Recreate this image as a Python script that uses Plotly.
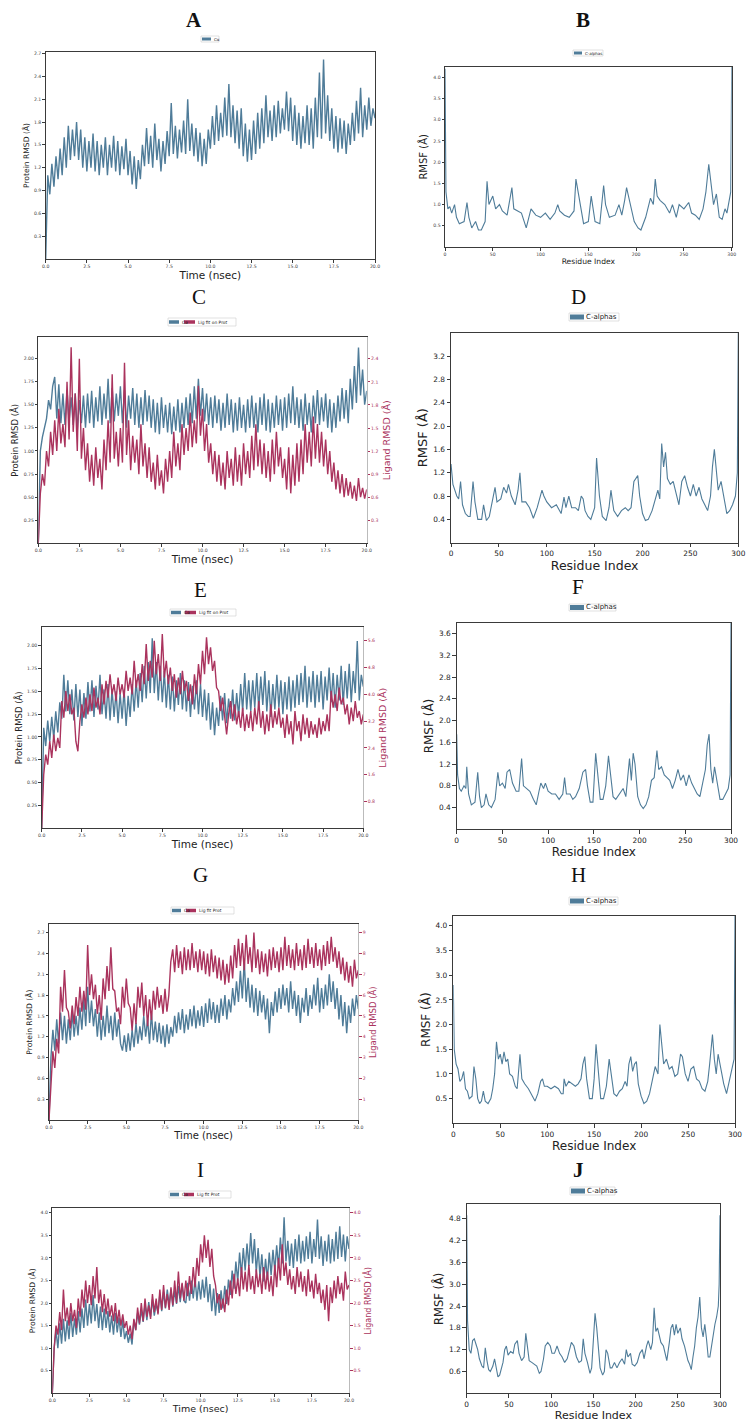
import plotly.graph_objects as go

# ====================== DATA ======================
FRAME_NS = 0.125  # sampling interval of RMSD traces (ns)

a_protein = [
    0.00, 1.10, 0.85, 1.25, 0.95, 1.35, 1.05, 1.45,
    1.10, 1.60, 1.20, 1.75, 1.30, 1.70, 1.35, 1.80,
    1.30, 1.70, 1.20, 1.60, 1.15, 1.55, 1.20, 1.65,
    1.15, 1.55, 1.10, 1.50, 1.20, 1.60, 1.10, 1.50,
    1.20, 1.62, 1.15, 1.55, 1.10, 1.48, 1.18, 1.58,
    1.10, 1.42, 0.98, 1.35, 0.92, 1.30, 1.05, 1.50,
    1.22, 1.72, 1.25, 1.62, 1.20, 1.78, 1.30, 1.58,
    1.15, 1.55, 1.25, 1.68, 1.35, 2.05, 1.38, 1.75,
    1.32, 1.70, 1.40, 1.82, 1.38, 2.10, 1.42, 1.78,
    1.35, 1.72, 1.28, 1.66, 1.22, 1.58, 1.25, 1.70,
    1.45, 1.88, 1.50, 2.02, 1.55, 1.92, 1.60, 2.12,
    1.62, 2.30, 1.60, 2.02, 1.52, 1.95, 1.45, 1.98,
    1.35, 1.78, 1.28, 1.70, 1.30, 1.82, 1.38, 1.92,
    1.45, 1.98, 1.52, 2.15, 1.60, 1.95, 1.55, 2.02,
    1.60, 2.08, 1.65, 1.98, 1.70, 2.20, 1.68, 2.12,
    1.55, 2.02, 1.50, 1.92, 1.45, 1.88, 1.52, 2.02,
    1.50, 1.98, 1.45, 2.12, 1.60, 2.45, 1.58, 2.62,
    1.65, 2.15, 1.55, 1.98, 1.45, 1.88, 1.40, 1.85,
    1.45, 1.82, 1.38, 1.78, 1.50, 1.92, 1.55, 2.08,
    1.65, 2.25, 1.60, 2.02, 1.70, 2.12, 1.75, 1.98,
    1.85,
]

c_protein = [
    0.00, 1.00, 1.15, 1.25, 1.35, 1.55, 1.45, 1.70,
    1.80, 1.35, 1.72, 1.30, 1.62, 1.28, 1.66, 1.32,
    1.58, 1.28, 1.62, 1.22, 1.55, 1.30, 1.60, 1.25,
    1.62, 1.30, 1.65, 1.25, 1.58, 1.32, 1.70, 1.28,
    1.62, 1.35, 1.78, 1.30, 1.68, 1.32, 1.62, 1.38,
    1.70, 1.30, 1.66, 1.25, 1.60, 1.35, 1.68, 1.28,
    1.62, 1.25, 1.58, 1.28, 1.66, 1.32, 1.60, 1.25,
    1.56, 1.20, 1.52, 1.18, 1.58, 1.25, 1.50, 1.20,
    1.52, 1.18, 1.48, 1.22, 1.56, 1.20, 1.52, 1.25,
    1.58, 1.28, 1.62, 1.30, 1.70, 1.35, 1.78, 1.38,
    1.68, 1.32, 1.62, 1.28, 1.58, 1.25, 1.60, 1.30,
    1.56, 1.22, 1.52, 1.25, 1.62, 1.28, 1.56, 1.20,
    1.52, 1.22, 1.58, 1.25, 1.50, 1.20, 1.56, 1.25,
    1.60, 1.25, 1.52, 1.20, 1.58, 1.28, 1.62, 1.22,
    1.56, 1.20, 1.52, 1.25, 1.60, 1.28, 1.56, 1.22,
    1.58, 1.25, 1.62, 1.30, 1.70, 1.28, 1.58, 1.25,
    1.56, 1.22, 1.62, 1.28, 1.52, 1.20, 1.60, 1.30,
    1.66, 1.28, 1.58, 1.32, 1.62, 1.25, 1.56, 1.20,
    1.52, 1.25, 1.60, 1.32, 1.68, 1.35, 1.66, 1.30,
    1.78, 1.45, 1.92, 1.52, 2.12, 1.60, 1.88, 1.50,
    1.65,
]

c_ligand = [
    0.00, 0.65, 0.90, 0.75, 1.20, 1.00, 1.45, 1.15,
    1.60, 1.20, 1.75, 1.30, 1.55, 1.25, 2.10, 1.35,
    2.55, 1.45, 1.95, 1.20, 2.40, 1.10, 1.50, 0.95,
    1.30, 0.80, 1.15, 0.75, 1.25, 0.85, 1.10, 0.70,
    1.35, 0.95, 1.60, 1.05, 2.20, 1.10, 1.45, 1.00,
    1.50, 1.05, 2.35, 1.15, 1.60, 0.95, 1.40, 1.05,
    1.35, 0.90, 1.55, 1.00, 1.30, 0.85, 1.25, 0.80,
    1.05, 0.70, 1.15, 0.75, 0.95, 0.65, 1.10, 0.80,
    1.20, 0.85, 1.45, 1.00, 1.30, 0.95, 1.55, 1.15,
    1.50, 1.20, 1.70, 1.25, 1.60, 1.30, 2.05, 1.40,
    1.75, 1.20, 1.55, 1.05, 1.30, 0.90, 1.20, 0.80,
    1.15, 0.75, 1.05, 0.70, 1.20, 0.85, 1.10, 0.75,
    1.25, 0.80, 1.15, 0.75, 1.30, 0.90, 1.20, 0.85,
    1.40, 0.95, 1.55, 1.00, 1.35, 0.90, 1.30, 0.85,
    1.20, 0.80, 1.35, 0.90, 1.45, 1.00, 1.25, 0.85,
    1.10, 0.70, 1.25, 0.65, 1.15, 0.75, 1.30, 0.80,
    1.35, 0.90, 1.55, 1.05, 1.45, 1.00, 1.65, 1.10,
    1.55, 1.05, 1.45, 1.00, 1.35, 0.90, 1.20, 0.80,
    1.05, 0.70, 0.95, 0.65, 0.90, 0.60, 0.85, 0.62,
    0.80, 0.58, 0.75, 0.55, 0.85, 0.60, 0.72, 0.58,
    0.70,
]

e_protein = [
    0.00, 1.10, 0.90, 1.18, 0.95, 1.22, 0.98, 1.28,
    1.05, 1.38, 1.20, 1.68, 1.28, 1.62, 1.25, 1.52,
    1.18, 1.58, 1.22, 1.52, 1.12, 1.48, 1.20, 1.60,
    1.28, 1.62, 1.22, 1.56, 1.30, 1.68, 1.25, 1.52,
    1.20, 1.58, 1.18, 1.52, 1.22, 1.50, 1.15, 1.48,
    1.20, 1.52, 1.12, 1.45, 1.22, 1.58, 1.28, 1.62,
    1.32, 1.70, 1.38, 1.78, 1.42, 1.82, 1.48, 2.08,
    1.48, 1.82, 1.40, 1.78, 1.38, 1.72, 1.32, 1.68,
    1.30, 1.66, 1.28, 1.62, 1.35, 1.70, 1.30, 1.62,
    1.28, 1.60, 1.22, 1.56, 1.30, 1.62, 1.25, 1.58,
    1.22, 1.52, 1.18, 1.48, 1.08, 1.38, 1.02, 1.32,
    1.12, 1.45, 1.18, 1.48, 1.15, 1.42, 1.20, 1.52,
    1.18, 1.48, 1.22, 1.58, 1.28, 1.70, 1.30, 1.62,
    1.28, 1.62, 1.32, 1.70, 1.30, 1.66, 1.35, 1.72,
    1.28, 1.62, 1.22, 1.58, 1.30, 1.68, 1.32, 1.62,
    1.25, 1.60, 1.30, 1.66, 1.28, 1.62, 1.32, 1.68,
    1.35, 1.70, 1.38, 1.78, 1.32, 1.66, 1.38, 1.72,
    1.32, 1.68, 1.38, 1.72, 1.30, 1.66, 1.40, 1.76,
    1.38, 1.70, 1.32, 1.68, 1.40, 1.78, 1.35, 1.72,
    1.42, 1.80, 1.38, 1.72, 1.48, 2.05, 1.40, 1.68,
    1.55,
]

e_ligand = [
    0.00, 1.60, 2.20, 1.90, 2.60, 2.10, 2.80, 2.30,
    2.70, 2.40, 3.80, 3.30, 4.10, 3.50, 4.00, 3.40,
    3.60, 2.60, 2.30, 3.20, 3.70, 3.30, 3.90, 3.40,
    4.00, 3.50, 4.20, 3.60, 3.90, 3.40, 4.30, 3.70,
    4.40, 3.90, 4.60, 4.00, 4.30, 3.80, 4.50, 4.00,
    4.30, 3.90, 4.70, 4.10, 4.50, 4.00, 5.00, 4.20,
    4.60, 4.10, 4.90, 4.30, 5.50, 4.40, 5.00, 4.50,
    5.60, 4.60, 5.20, 4.40, 5.80, 4.50, 5.00, 4.30,
    4.80, 4.10, 4.60, 3.90, 4.50, 4.00, 4.70, 4.10,
    4.40, 3.80, 4.30, 3.70, 4.60, 4.00, 4.90, 4.30,
    5.30, 4.60, 5.70, 4.90, 5.40, 4.70, 5.00, 4.20,
    4.10, 3.50, 3.90, 3.30, 2.80, 3.40, 3.80, 3.20,
    3.70, 3.10, 3.50, 3.00, 3.60, 2.90, 3.40, 3.00,
    3.50, 2.90, 3.60, 3.10, 3.80, 3.00, 3.50, 2.80,
    3.40, 2.90, 3.70, 3.00, 3.50, 3.10, 3.60, 3.00,
    3.30, 2.70, 3.40, 2.80, 3.20, 2.50, 3.50, 2.90,
    3.20, 2.60, 3.40, 2.80, 3.30, 2.70, 3.20, 2.80,
    3.10, 2.70, 3.30, 2.80, 3.20, 2.90, 3.40, 2.90,
    4.10, 3.60, 4.00, 3.50, 4.20, 3.70, 3.90, 3.40,
    3.70, 3.10, 3.60, 3.20, 3.80, 3.30, 3.50, 3.10,
    3.40,
]

g_protein = [
    0.00, 0.90, 1.30, 1.00, 1.45, 1.10, 1.55, 1.15,
    1.50, 1.10, 1.45, 1.15, 1.55, 1.20, 1.50, 1.22,
    1.62, 1.30, 1.75, 1.35, 1.92, 1.40, 1.72, 1.35,
    1.60, 1.20, 1.55, 1.15, 1.50, 1.20, 1.65, 1.25,
    1.50, 1.15, 1.55, 1.20, 1.45, 1.10, 1.00, 1.22,
    0.98, 1.25, 1.00, 1.30, 1.05, 1.40, 1.10, 1.35,
    1.15, 1.50, 1.20, 1.45, 1.10, 1.55, 1.15, 1.42,
    1.12, 1.40, 1.10, 1.36, 1.05, 1.38, 1.10, 1.34,
    1.20, 1.50, 1.25, 1.55, 1.30, 1.60, 1.25, 1.52,
    1.30, 1.60, 1.35, 1.65, 1.32, 1.58, 1.36, 1.64,
    1.34, 1.68, 1.40, 1.75, 1.45, 1.70, 1.40, 1.66,
    1.40, 1.75, 1.50, 1.80, 1.45, 1.74, 1.55, 1.90,
    1.65, 2.00, 1.70, 2.15, 1.75, 2.30, 1.70, 2.05,
    1.62, 1.95, 1.55, 1.90, 1.50, 1.86, 1.55, 1.80,
    1.45, 1.75, 1.25, 1.70, 1.50, 1.85, 1.55, 1.90,
    1.60, 1.95, 1.65, 1.90, 1.55, 2.00, 1.60, 1.86,
    1.50, 1.80, 1.40, 1.76, 1.55, 1.90, 1.50, 1.80,
    1.60, 1.95, 1.65, 2.05, 1.55, 1.90, 1.60, 1.95,
    1.65, 2.10, 1.70, 2.00, 1.60, 1.90, 1.45, 1.80,
    1.35, 1.70, 1.25, 1.65, 1.40, 1.75, 1.50, 1.80,
    1.60,
]

g_ligand = [
    0.00, 2.00, 3.30, 2.50, 3.90, 3.20, 6.40, 5.20,
    7.20, 5.40, 5.20, 4.40, 5.50, 4.60, 5.90, 5.00,
    6.40, 5.20, 6.20, 5.30, 8.40, 6.00, 7.00, 5.80,
    6.50, 5.10, 6.00, 4.80, 6.80, 5.80, 7.40, 6.20,
    8.30, 6.30, 6.20, 5.20, 5.40, 4.60, 6.40, 5.40,
    6.80, 5.60, 5.40, 4.30, 5.60, 4.60, 6.40, 5.40,
    6.60, 5.00, 6.00, 4.50, 5.80, 4.80, 6.20, 5.30,
    6.40, 5.40, 6.00, 5.10, 6.30, 5.20, 6.00, 7.60,
    8.20, 7.10, 8.40, 7.30, 8.10, 7.00, 8.30, 7.20,
    8.20, 7.20, 8.50, 7.30, 8.10, 7.10, 8.20, 7.20,
    8.10, 7.00, 8.00, 6.90, 8.20, 7.10, 7.90, 6.80,
    7.80, 6.70, 7.70, 6.50, 7.50, 6.60, 7.90, 6.80,
    8.40, 7.30, 8.70, 7.40, 8.50, 7.20, 8.90, 7.50,
    8.30, 7.10, 9.00, 7.30, 8.20, 7.00, 8.10, 7.10,
    8.00, 6.90, 8.20, 7.20, 8.30, 7.30, 8.10, 7.10,
    8.30, 7.20, 8.80, 7.40, 8.40, 7.30, 8.20, 7.20,
    8.50, 7.40, 8.20, 7.20, 8.40, 7.30, 8.70, 7.50,
    8.30, 7.30, 8.50, 7.40, 8.20, 7.20, 8.40, 7.40,
    8.60, 7.50, 8.80, 7.60, 8.30, 7.30, 8.10, 7.00,
    7.80, 6.70, 7.60, 6.60, 7.40, 6.40, 7.70, 6.80,
    7.20,
]

i_protein = [
    0.00, 1.00, 1.40, 1.00, 1.55, 1.10, 1.65, 1.15,
    1.62, 1.20, 1.78, 1.25, 1.66, 1.30, 1.82, 1.35,
    1.88, 1.45, 2.08, 1.50, 1.98, 1.55, 2.18, 1.60,
    1.98, 1.45, 1.92, 1.40, 1.88, 1.45, 1.82, 1.35,
    1.72, 1.30, 1.78, 1.35, 1.68, 1.25, 1.62, 1.20,
    1.38, 1.12, 1.32, 1.08, 1.62, 1.40, 1.78, 1.52,
    1.85, 1.58, 1.98, 1.62, 2.02, 1.70, 2.08, 1.72,
    1.98, 1.78, 2.20, 1.82, 2.25, 1.88, 2.30, 1.95,
    2.30, 1.92, 2.28, 1.98, 2.38, 2.02, 2.42, 2.05,
    2.00, 2.45, 2.05, 2.50, 2.10, 2.55, 2.05, 2.48,
    2.08, 2.52, 2.12, 2.58, 2.02, 2.42, 1.82, 2.32,
    1.72, 2.22, 1.78, 2.28, 1.88, 2.38, 1.98, 2.52,
    2.18, 2.72, 2.32, 2.92, 2.48, 3.12, 2.62, 3.22,
    2.72, 3.32, 2.82, 3.55, 2.88, 3.42, 2.68, 3.22,
    2.58, 3.08, 2.48, 2.98, 2.52, 3.12, 2.62, 3.18,
    2.72, 3.28, 2.78, 3.45, 2.88, 3.90, 2.92, 3.38,
    2.82, 3.32, 2.78, 3.42, 2.92, 3.52, 2.88, 3.38,
    2.92, 3.48, 2.98, 3.58, 2.88, 3.42, 3.02, 3.85,
    2.98, 3.48, 2.82, 3.38, 2.92, 3.52, 2.88, 3.42,
    2.92, 3.58, 2.98, 3.70, 3.02, 3.52, 2.92, 3.48,
    3.20,
]

i_ligand = [
    0.00, 1.00, 1.50, 1.30, 1.80, 1.40, 2.30, 1.60,
    1.90, 1.50, 2.00, 1.60, 1.85, 1.45, 2.10, 1.70,
    2.30, 1.90, 2.50, 2.00, 2.40, 1.95, 2.60, 2.10,
    2.80, 2.00, 2.30, 1.80, 2.20, 1.75, 2.10, 1.70,
    1.95, 1.60, 2.00, 1.55, 1.85, 1.50, 1.75, 1.45,
    1.60, 1.30, 1.50, 1.20, 1.65, 1.40, 1.90, 1.55,
    2.00, 1.60, 2.10, 1.70, 1.95, 1.65, 2.20, 1.80,
    2.10, 1.75, 2.30, 1.85, 2.40, 1.90, 2.20, 1.85,
    2.35, 1.95, 2.50, 2.00, 2.70, 2.10, 2.45, 2.05,
    2.50, 2.15, 2.60, 2.20, 2.80, 2.35, 3.00, 2.60,
    3.30, 2.90, 3.50, 3.00, 3.40, 2.80, 3.20, 2.60,
    2.40, 2.00, 2.20, 1.85, 2.10, 1.80, 2.30, 1.95,
    2.50, 2.10, 2.65, 2.20, 2.55, 2.15, 2.80, 2.30,
    2.70, 2.25, 2.85, 2.30, 2.60, 2.20, 2.75, 2.35,
    2.65, 2.20, 2.80, 2.30, 2.70, 2.25, 2.60, 2.15,
    2.85, 2.35, 3.00, 2.50, 3.30, 2.60, 2.90, 2.40,
    2.75, 2.30, 2.60, 2.20, 2.80, 2.35, 2.70, 2.25,
    2.60, 2.15, 2.75, 2.25, 2.50, 2.10, 2.65, 2.20,
    2.45, 2.00, 2.30, 1.85, 2.40, 1.60, 2.35, 2.00,
    2.50, 2.10, 2.60, 2.20, 2.45, 2.05, 2.70, 2.30,
    2.40,
]

# RMSF: (residue index, RMSF in Angstrom)
b_rmsf = [
    (0, 4.2), (1, 1.3), (3, 0.9), (5, 0.95), (7, 0.8), (10, 1.0), (12, 0.7), (15, 0.55),
    (20, 0.6), (23, 1.05), (25, 0.7), (28, 0.45), (32, 0.6), (35, 0.4), (38, 0.4), (42, 0.6),
    (44, 1.55), (46, 1.0), (50, 1.2), (53, 0.9), (57, 1.0), (60, 0.85), (65, 0.75), (70, 1.4),
    (72, 0.9), (76, 0.85), (80, 0.8), (85, 0.45), (90, 0.9), (95, 0.75), (100, 0.7), (105, 0.8),
    (110, 0.65), (115, 0.8), (118, 1.0), (120, 0.85), (125, 0.75), (130, 0.7), (135, 0.85),
    (137, 1.6), (140, 1.2), (145, 0.55), (150, 0.6), (153, 1.2), (157, 0.6), (162, 0.55),
    (166, 1.45), (168, 1.0), (172, 0.7), (178, 0.75), (182, 1.0), (185, 0.75), (188, 1.1),
    (190, 1.4), (193, 1.1), (198, 0.6), (202, 0.45), (205, 0.4), (210, 0.7), (215, 1.15),
    (218, 1.0), (220, 1.6), (222, 1.2), (225, 1.1), (230, 1.0), (235, 0.8), (238, 1.0),
    (242, 0.7), (245, 1.0), (250, 0.9), (255, 1.05), (258, 0.8), (262, 0.75), (266, 0.65),
    (270, 0.9), (273, 1.3), (276, 1.95), (279, 1.3), (281, 1.0), (284, 1.25), (287, 0.7),
    (290, 0.65), (293, 0.9), (295, 0.8), (298, 1.2), (299, 1.3), (300, 4.25),
]

d_rmsf = [
    (0, 1.35), (2, 1.0), (4, 0.9), (6, 0.8), (8, 0.75), (10, 1.05), (12, 0.65), (15, 0.5),
    (18, 0.45), (20, 0.45), (23, 1.05), (25, 0.7), (28, 0.4), (32, 0.4), (34, 0.65), (37, 0.38),
    (40, 0.45), (43, 0.7), (46, 0.95), (48, 0.7), (52, 0.75), (55, 0.95), (58, 0.85), (60, 1.0),
    (63, 0.8), (67, 0.65), (70, 0.9), (72, 1.2), (74, 0.7), (78, 0.7), (82, 0.6), (86, 0.42),
    (90, 0.6), (95, 0.9), (97, 0.8), (100, 0.7), (105, 0.6), (110, 0.65), (115, 0.5), (118, 0.78),
    (120, 0.6), (123, 0.8), (126, 0.6), (130, 0.6), (133, 0.55), (136, 0.8), (138, 0.75),
    (140, 0.55), (143, 0.45), (146, 0.4), (150, 0.6), (152, 1.45), (155, 0.8), (158, 0.45),
    (162, 0.38), (165, 0.6), (167, 0.9), (170, 0.55), (174, 0.45), (178, 0.55), (182, 0.6),
    (185, 0.55), (188, 0.6), (191, 1.05), (193, 1.1), (195, 1.15), (197, 0.8), (200, 0.5),
    (203, 0.38), (206, 0.4), (210, 0.55), (213, 0.75), (216, 0.9), (218, 0.75), (220, 1.7),
    (222, 1.3), (224, 1.55), (226, 1.1), (229, 1.0), (232, 1.05), (235, 0.85), (238, 0.65),
    (241, 1.05), (244, 1.15), (247, 0.95), (250, 0.8), (253, 1.0), (256, 0.8), (259, 0.95),
    (262, 0.75), (265, 0.65), (268, 0.55), (271, 0.8), (273, 1.3), (275, 1.6), (277, 1.3),
    (279, 0.9), (282, 1.05), (285, 0.8), (288, 0.5), (291, 0.55), (294, 0.65), (297, 0.8),
    (299, 1.2), (300, 3.6),
]

f_rmsf = [
    (0, 1.75), (1, 1.0), (3, 0.75), (5, 0.7), (8, 0.8), (10, 0.75), (11, 1.15), (13, 0.65),
    (16, 0.45), (20, 0.5), (23, 1.05), (25, 0.6), (27, 0.4), (30, 0.45), (32, 0.65), (35, 0.45),
    (38, 0.4), (42, 0.55), (45, 1.05), (47, 0.8), (50, 0.85), (53, 0.75), (55, 1.05), (58, 1.1),
    (61, 0.85), (65, 0.7), (68, 0.7), (71, 1.3), (73, 0.8), (77, 0.75), (80, 0.7), (84, 0.55),
    (87, 0.45), (90, 0.7), (92, 0.85), (95, 0.75), (97, 0.85), (100, 0.7), (104, 0.65),
    (108, 0.65), (112, 0.55), (116, 0.65), (118, 0.95), (120, 0.65), (124, 0.65), (127, 0.55),
    (130, 0.6), (134, 0.75), (138, 1.05), (141, 1.1), (143, 0.8), (146, 0.5), (149, 0.5),
    (152, 1.4), (154, 1.1), (157, 0.55), (160, 0.55), (163, 0.8), (166, 1.35), (168, 1.0),
    (171, 0.6), (174, 0.55), (178, 0.65), (182, 0.75), (185, 0.6), (187, 1.0), (189, 1.3),
    (191, 0.9), (193, 1.4), (195, 1.2), (198, 0.6), (201, 0.45), (204, 0.38), (207, 0.45),
    (210, 0.6), (213, 0.9), (216, 0.95), (219, 1.45), (221, 1.1), (224, 1.15), (227, 1.0),
    (230, 0.95), (233, 0.9), (236, 0.75), (239, 0.9), (242, 1.1), (245, 0.9), (248, 1.0),
    (251, 0.8), (254, 1.0), (257, 0.85), (260, 0.75), (263, 0.65), (266, 0.6), (269, 0.85),
    (272, 1.1), (274, 1.55), (276, 1.75), (278, 1.1), (280, 0.85), (282, 1.15), (285, 0.85),
    (288, 0.55), (291, 0.55), (294, 0.65), (297, 0.75), (299, 1.0), (300, 3.8),
]

h_rmsf = [
    (0, 2.8), (1, 1.5), (3, 1.2), (5, 1.1), (7, 0.85), (9, 0.9), (11, 1.05), (13, 0.7),
    (15, 0.65), (17, 0.5), (20, 0.55), (22, 1.15), (24, 0.9), (26, 0.5), (28, 0.4), (30, 0.45),
    (32, 0.65), (34, 0.45), (37, 0.4), (40, 0.5), (42, 0.7), (44, 1.0), (46, 1.65), (48, 1.3),
    (50, 1.4), (52, 1.2), (54, 1.45), (56, 1.25), (58, 1.3), (60, 1.0), (63, 0.95), (66, 0.75),
    (68, 0.7), (71, 1.4), (73, 0.9), (76, 0.8), (80, 0.7), (84, 0.55), (87, 0.45), (90, 0.6),
    (93, 0.85), (95, 0.9), (97, 0.75), (100, 0.75), (104, 0.7), (108, 0.75), (112, 0.7),
    (115, 0.6), (117, 0.6), (118, 0.9), (120, 0.75), (123, 0.85), (126, 0.8), (130, 0.75),
    (133, 0.8), (136, 0.9), (138, 1.2), (140, 1.35), (142, 0.9), (145, 0.5), (148, 0.5),
    (150, 0.9), (152, 1.6), (154, 1.1), (157, 0.5), (160, 0.5), (163, 0.75), (166, 1.3),
    (168, 1.05), (171, 0.6), (174, 0.55), (177, 0.65), (180, 0.7), (183, 0.85), (185, 0.75),
    (187, 1.2), (189, 1.35), (191, 1.05), (193, 1.2), (195, 1.25), (197, 0.8), (200, 0.55),
    (203, 0.4), (206, 0.45), (209, 0.6), (212, 0.85), (215, 1.15), (218, 1.0), (220, 2.0),
    (222, 1.6), (224, 1.2), (227, 1.3), (230, 1.1), (233, 1.15), (236, 0.95), (239, 1.0),
    (242, 1.4), (244, 1.35), (247, 1.0), (250, 0.85), (253, 1.1), (256, 1.15), (259, 0.9),
    (262, 0.85), (265, 0.7), (268, 0.65), (271, 0.85), (273, 1.2), (275, 1.55), (276, 1.8),
    (278, 1.3), (280, 1.0), (282, 1.4), (285, 1.1), (288, 0.8), (291, 0.6), (294, 0.85),
    (297, 1.15), (299, 1.3), (300, 4.2),
]

j_rmsf = [
    (0, 4.9), (1, 2.0), (3, 1.2), (5, 1.1), (7, 1.45), (9, 1.5), (11, 1.35), (13, 1.2),
    (15, 0.95), (18, 0.75), (20, 0.7), (22, 1.25), (24, 0.9), (26, 0.65), (28, 0.6), (31, 0.75),
    (33, 0.95), (35, 0.7), (37, 0.45), (39, 0.5), (41, 0.7), (43, 0.85), (45, 1.2), (47, 1.3),
    (49, 1.05), (52, 1.15), (55, 1.1), (57, 1.35), (60, 1.45), (62, 1.1), (65, 0.9), (68, 1.0),
    (70, 1.65), (72, 1.3), (74, 0.9), (77, 0.85), (80, 0.8), (83, 0.75), (86, 0.55), (88, 0.6),
    (91, 0.95), (93, 1.3), (96, 1.4), (99, 1.3), (101, 1.1), (104, 1.1), (107, 1.3), (110, 1.1),
    (113, 1.0), (116, 0.85), (119, 0.95), (122, 1.25), (124, 1.4), (127, 1.3), (130, 1.0),
    (133, 0.85), (136, 0.9), (138, 1.5), (140, 1.1), (143, 0.85), (146, 0.55), (148, 0.7),
    (150, 1.4), (152, 2.2), (154, 1.8), (156, 1.1), (158, 0.7), (161, 0.5), (163, 0.6),
    (165, 1.2), (167, 1.1), (170, 0.7), (172, 0.7), (175, 0.85), (178, 0.7), (181, 0.85),
    (184, 0.95), (187, 0.8), (189, 1.2), (191, 1.0), (194, 1.1), (196, 0.8), (199, 0.75),
    (202, 0.85), (205, 1.1), (208, 1.2), (210, 0.95), (213, 1.3), (215, 1.45), (218, 1.2),
    (220, 1.4), (222, 2.35), (224, 1.7), (226, 1.8), (228, 1.6), (230, 1.4), (233, 1.3),
    (235, 1.05), (237, 0.9), (240, 1.4), (242, 1.8), (244, 1.9), (246, 1.6), (248, 1.9),
    (250, 1.65), (253, 1.8), (255, 1.5), (258, 1.3), (260, 1.1), (262, 0.9), (264, 0.8),
    (266, 0.65), (268, 1.0), (270, 1.3), (272, 1.8), (274, 2.1), (276, 2.65), (278, 1.8),
    (280, 1.55), (282, 1.9), (284, 1.5), (286, 1.0), (288, 1.0), (290, 1.3), (292, 1.7),
    (294, 1.9), (296, 2.1), (298, 2.4), (299, 3.0), (300, 4.9),
]

# Tick labels
time_ticks = [0, 2.5, 5, 7.5, 10, 12.5, 15, 17.5, 20]
residue_ticks = [0, 50, 100, 150, 200, 250, 300]
a_yticks = [0.3, 0.6, 0.9, 1.2, 1.5, 1.8, 2.1, 2.4, 2.7]
b_yticks = [0.5, 1.0, 1.5, 2.0, 2.5, 3.0, 3.5, 4.0]
c_yticks = [0.25, 0.5, 0.75, 1.0, 1.25, 1.5, 1.75, 2.0]
c_y2ticks = [0.3, 0.6, 0.9, 1.2, 1.5, 1.8, 2.1, 2.4]
d_yticks = [0.4, 0.8, 1.2, 1.6, 2.0, 2.4, 2.8, 3.2]
e_yticks = [0.25, 0.5, 0.75, 1.0, 1.25, 1.5, 1.75, 2.0]
e_y2ticks = [0.8, 1.6, 2.4, 3.2, 4.0, 4.8, 5.6]
f_yticks = [0.4, 0.8, 1.2, 1.6, 2.0, 2.4, 2.8, 3.2, 3.6]
g_yticks = [0.3, 0.6, 0.9, 1.2, 1.5, 1.8, 2.1, 2.4, 2.7]
g_y2ticks = [1, 2, 3, 4, 5, 6, 7, 8, 9]
h_yticks = [0.5, 1.0, 1.5, 2.0, 2.5, 3.0, 3.5, 4.0]
i_yticks = [0.5, 1.0, 1.5, 2.0, 2.5, 3.0, 3.5, 4.0]
i_y2ticks = [0.5, 1.0, 1.5, 2.0, 2.5, 3.0, 3.5, 4.0]
j_yticks = [0.6, 1.2, 1.8, 2.4, 3.0, 3.6, 4.2, 4.8]

# ====================== STYLE / LAYOUT ======================
W, H = 754, 1427
BLUE = "#4f7c99"
RED = "#aa335d"
FRAME = "#3a3a3a"
SANS = "DejaVu Sans"
SERIF = "Liberation Serif"
RMSD_WIDTH = 1.4
RMSF_WIDTH = 1.1


def times(vals):
    return [round(k * FRAME_NS, 4) for k in range(len(vals))]


def unzip(pairs):
    return [p[0] for p in pairs], [p[1] for p in pairs]


def px(x):
    return x / W


def py(y):
    return 1 - y / H


def nm(prefix, i):
    return prefix if i == 1 else f"{prefix}{i}"


fig = go.Figure()
layout = dict(width=W, height=H, margin=dict(l=0, r=0, t=0, b=0),
              paper_bgcolor="white", plot_bgcolor="white", showlegend=False,
              annotations=[], shapes=[])

SMALL = dict(tick=4.6, ticklen=2.5, tcolor="#444")
BIG = dict(tick=7.4, ticklen=3.5, tcolor="#222")


def make_axis(domain, rng, tickvals, fmt, title, tsize, st, standoff, anchor, color=None, **kw):
    d = dict(domain=domain, range=rng, tickvals=tickvals, tickformat=fmt,
             title=dict(text=title, standoff=standoff,
                        font=dict(size=tsize, family=SANS, color=color or "#222")),
             showline=True, linecolor=FRAME, linewidth=1, mirror=True,
             ticks="outside", ticklen=st["ticklen"], tickwidth=0.8, tickcolor=color or FRAME,
             tickfont=dict(size=st["tick"], family=SANS, color=color or st["tcolor"]),
             showgrid=False, zeroline=False, anchor=anchor, automargin=False, fixedrange=True)
    d.update(kw)
    return d


def add_legend(box, entries, fsize, swh):
    x0, y0, x1, y1 = box
    layout["shapes"].append(dict(type="rect", xref="paper", yref="paper",
                                 x0=px(x0), x1=px(x1), y0=py(y1), y1=py(y0),
                                 fillcolor="white", line=dict(color="#cfcfcf", width=0.6),
                                 layer="above"))
    yc = (y0 + y1) / 2
    for (sx0, sx1, tx, text, color) in entries:
        layout["shapes"].append(dict(type="rect", xref="paper", yref="paper",
                                     x0=px(sx0), x1=px(sx1), y0=py(yc + swh / 2),
                                     y1=py(yc - swh / 2), fillcolor=color,
                                     line=dict(width=0), layer="above"))
        layout["annotations"].append(dict(text=text, x=px(tx), y=py(yc), xref="paper",
                                          yref="paper", xanchor="left", yanchor="middle",
                                          showarrow=False,
                                          font=dict(size=fsize, family=SANS, color="#222")))


right_counter = [10]


def add_panel(i, label, bold, box, title_xy, kind, st, series, yrange, yticks, yfmt,
              xt, yt, y2=None):
    l, t, r, b = box
    xa, ya = nm("x", i), nm("y", i)
    xkey, ykey = nm("xaxis", i), nm("yaxis", i)
    big = st is BIG
    if kind == "rmsd":
        layout[xkey] = make_axis([px(l), px(r)], [0, 20], time_ticks, ".1f", "Time (nsec)",
                                 xt, st, 1, ya)
        ytitle = "Protein RMSD (Å)"
        width = RMSD_WIDTH
    else:
        layout[xkey] = make_axis([px(l), px(r)], [0, 300], residue_ticks, "d", "Residue Index",
                                 xt, st, 1 if not big else 3, ya)
        ytitle = "RMSF (Å)"
        width = RMSF_WIDTH
    layout[ykey] = make_axis([py(b), py(t)], yrange, yticks, yfmt, ytitle, yt, st,
                             3 if not big else 2, xa)
    y2name = None
    if y2 is not None:
        right_counter[0] += 1
        k = right_counter[0]
        y2name = f"y{k}"
        layout[f"yaxis{k}"] = make_axis([py(b), py(t)], y2["range"], y2["ticks"], y2["fmt"],
                                        "Ligand RMSD (Å)", y2["tsize"], st, 5, xa, color=RED,
                                        overlaying=ya, side="right", mirror=False,
                                        linecolor="#bbbbbb")
    for (xs, ys, color, on_right) in series:
        fig.add_trace(go.Scatter(x=xs, y=ys, mode="lines",
                                 line=dict(color=color, width=width),
                                 xaxis=xa, yaxis=(y2name if on_right else ya),
                                 showlegend=False, hoverinfo="skip"))
    txt = f"<b>{label}</b>" if bold else label
    layout["annotations"].append(dict(
        text=txt, x=px(title_xy[0]), y=py(title_xy[1]), xref="paper", yref="paper",
        xanchor="center", yanchor="middle", showarrow=False,
        font=dict(family=SERIF, size=21, color="#111")))


# ---- Panels ----
add_panel(1, "A", True, (45.7, 52, 375, 259), (194, 20), "rmsd", SMALL,
          [(times(a_protein), a_protein, BLUE, False)],
          [0, 2.72], a_yticks, ".1f", 10.5, 7.6)
add_legend((201, 36, 219, 42), [(202, 211, 212, "Cα", BLUE)], 4, 3)

bx, by = unzip(b_rmsf)
add_panel(2, "B", True, (445, 66.7, 731.7, 247), (583, 20), "rmsf", SMALL,
          [(bx, by, BLUE, False)],
          [0, 4.25], b_yticks, ".1f", 7.6, 10)
add_legend((573, 50, 603, 56), [(574, 582, 583, "C-alphas", BLUE)], 4, 3)

add_panel(3, "C", False, (38.3, 337.3, 366.7, 543.3), (199, 297), "rmsd", SMALL,
          [(times(c_protein), c_protein, BLUE, False), (times(c_ligand), c_ligand, RED, True)],
          [0, 2.23], c_yticks, ".2f", 10.5, 8.5,
          y2=dict(range=[0, 2.68], ticks=c_y2ticks, fmt=".1f", tsize=9.5))
add_legend((168, 318, 236, 326), [(169, 179, 180, "Cα", BLUE),
                                  (184, 195, 196, "Lig fit on Prot", RED)], 4.4, 3.5)

dx, dy = unzip(d_rmsf)
add_panel(4, "D", False, (451, 332.7, 738.3, 542.7), (578, 297), "rmsf", BIG,
          [(dx, dy, BLUE, False)],
          [0, 3.6], d_yticks, ".1f", 12.5, 13)
add_legend((569, 313, 619, 321), [(570, 584, 584, "C-alphas", BLUE)], 7, 5)

add_panel(5, "E", False, (41.7, 627.3, 363.3, 828.3), (200, 590), "rmsd", SMALL,
          [(times(e_protein), e_protein, BLUE, False), (times(e_ligand), e_ligand, RED, True)],
          [0, 2.2], e_yticks, ".2f", 10.5, 8.5,
          y2=dict(range=[0, 6.0], ticks=e_y2ticks, fmt=".1f", tsize=9.5))
add_legend((170, 609, 236, 616), [(171, 181, 182, "Cα", BLUE),
                                  (185, 196, 197, "Lig fit on Prot", RED)], 4.4, 3.5)

fx, fy = unzip(f_rmsf)
add_panel(6, "F", False, (456.7, 622.7, 731, 829.3), (578, 587), "rmsf", BIG,
          [(fx, fy, BLUE, False)],
          [0, 3.8], f_yticks, ".1f", 12, 12)
add_legend((569, 604, 616, 611), [(570, 584, 584, "C-alphas", BLUE)], 7, 5)

add_panel(7, "G", False, (49, 924.3, 358.3, 1120), (200, 875), "rmsd", SMALL,
          [(times(g_protein), g_protein, BLUE, False), (times(g_ligand), g_ligand, RED, True)],
          [0, 2.82], g_yticks, ".1f", 10, 7.6,
          y2=dict(range=[0, 9.4], ticks=g_y2ticks, fmt="d", tsize=8.5))
add_legend((171, 907, 234, 914), [(172, 181, 182, "Cα", BLUE),
                                  (186, 196, 197, "Lig fit Prot", RED)], 4.4, 3.5)

hx, hy = unzip(h_rmsf)
add_panel(8, "H", False, (453.3, 916, 735, 1123.3), (578, 875), "rmsf", BIG,
          [(hx, hy, BLUE, False)],
          [0, 4.2], h_yticks, ".1f", 12, 12)
add_legend((569, 897, 618, 905), [(570, 584, 584, "C-alphas", BLUE)], 7, 5)

add_panel(9, "I", False, (52.3, 1208.3, 349, 1393.3), (200, 1170), "rmsd", SMALL,
          [(times(i_protein), i_protein, BLUE, False), (times(i_ligand), i_ligand, RED, True)],
          [0, 4.1], i_yticks, ".1f", 9.5, 7.6,
          y2=dict(range=[0, 4.1], ticks=i_y2ticks, fmt=".1f", tsize=8))
add_legend((169, 1191, 231, 1198), [(170, 179, 180, "Cα", BLUE),
                                    (184, 194, 195, "Lig fit Prot", RED)], 4.4, 3.5)

jx, jy = unzip(j_rmsf)
add_panel(10, "J", True, (466.7, 1204.3, 720, 1393.3), (578, 1170), "rmsf", BIG,
          [(jx, jy, BLUE, False)],
          [0, 5.2], j_yticks, ".1f", 11, 11.5)
add_legend((570, 1187, 615, 1195), [(571, 585, 585, "C-alphas", BLUE)], 7, 5)

fig.update_layout(**layout)
fig.write_html("out.html", config={"displayModeBar": False},
               post_script="document.body.style.margin='0px';document.body.style.overflow='hidden';")
